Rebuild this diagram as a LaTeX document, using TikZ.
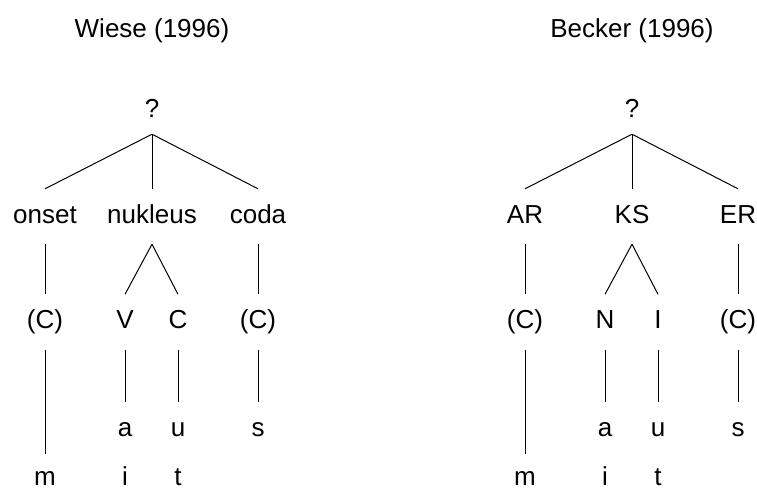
\documentclass[tikz,border=0pt]{standalone}
\usepackage{fontspec}
\setmainfont{Liberation Sans}
\begin{document}
\begin{tikzpicture}[x=1pt,y=-1pt,
  lbl/.style={font=\fontsize{26}{30}\selectfont, anchor=base, text height=18pt, text depth=5pt, inner xsep=2pt, inner ysep=16pt},
  toplbl/.style={lbl, text depth=1pt},
  botlbl/.style={lbl, text height=31pt, text depth=0pt, inner ysep=0pt},
  ttl/.style={font=\fontsize{26}{30}\selectfont, anchor=base, inner sep=0pt},
  edge/.style={line width=1pt, draw=black}]
\useasboundingbox (0,0) rectangle (757,491);

% ---------- left tree: Wiese (1996)
\node[ttl] (Ltitle) at (152,37) {Wiese (1996)};
\node[toplbl] (Lq) at (152,117) {?};
\node[lbl] (Lon) at (45,223) {onset};
\node[lbl] (Lnu) at (152,223) {nukleus};
\node[lbl] (Lco) at (258,223) {coda};
\node[lbl] (Lc1) at (45,328.5) {(C)};
\node[lbl] (Lv) at (125,328.5) {V};
\node[lbl] (Lc) at (178,328.5) {C};
\node[lbl] (Lc2) at (258,328.5) {(C)};
\node[lbl] (La) at (125,436) {a};
\node[lbl] (Lu) at (178,436) {u};
\node[lbl] (Ls) at (258,436) {s};
\node[botlbl] (Lm) at (45,485) {m};
\node[botlbl] (Li) at (125,485) {i};
\node[botlbl] (Lt) at (178,485) {t};
\draw[edge] (Lq.south) -- (Lon.north);
\draw[edge] (Lq.south) -- (Lnu.north);
\draw[edge] (Lq.south) -- (Lco.north);
\draw[edge] (Lon.south) -- (Lc1.north);
\draw[edge] (Lnu.south) -- (Lv.north);
\draw[edge] (Lnu.south) -- (Lc.north);
\draw[edge] (Lco.south) -- (Lc2.north);
\draw[edge] (Lc1.south) -- (Lm.north);
\draw[edge] (Lv.south) -- (La.north);
\draw[edge] (Lc.south) -- (Lu.north);
\draw[edge] (Lc2.south) -- (Ls.north);

% ---------- right tree: Becker (1996)
\begin{scope}[xshift=480pt]
\node[ttl] (Rtitle) at (152,37) {Becker (1996)};
\node[toplbl] (Rq) at (152,117) {?};
\node[lbl] (Ron) at (45,223) {AR};
\node[lbl] (Rnu) at (152,223) {KS};
\node[lbl] (Rco) at (258,223) {ER};
\node[lbl] (Rc1) at (45,328.5) {(C)};
\node[lbl] (Rv) at (125,328.5) {N};
\node[lbl] (Rc) at (178,328.5) {I};
\node[lbl] (Rc2) at (258,328.5) {(C)};
\node[lbl] (Ra) at (125,436) {a};
\node[lbl] (Ru) at (178,436) {u};
\node[lbl] (Rs) at (258,436) {s};
\node[botlbl] (Rm) at (45,485) {m};
\node[botlbl] (Ri) at (125,485) {i};
\node[botlbl] (Rt) at (178,485) {t};
\draw[edge] (Rq.south) -- (Ron.north);
\draw[edge] (Rq.south) -- (Rnu.north);
\draw[edge] (Rq.south) -- (Rco.north);
\draw[edge] (Ron.south) -- (Rc1.north);
\draw[edge] (Rnu.south) -- (Rv.north);
\draw[edge] (Rnu.south) -- (Rc.north);
\draw[edge] (Rco.south) -- (Rc2.north);
\draw[edge] (Rc1.south) -- (Rm.north);
\draw[edge] (Rv.south) -- (Ra.north);
\draw[edge] (Rc.south) -- (Ru.north);
\draw[edge] (Rc2.south) -- (Rs.north);
\end{scope}
\end{tikzpicture}
\end{document}
